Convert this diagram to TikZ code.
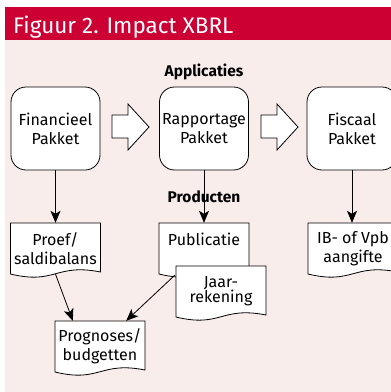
\documentclass[tikz,border=0pt]{standalone}
\usepackage{fontspec}
\setmainfont{Fira Sans}
\usetikzlibrary{arrows.meta}
\definecolor{hdr}{RGB}{204,0,51}
\definecolor{bgpink}{RGB}{249,237,236}
\tikzset{
  appbox/.style={draw, fill=white, line width=0.8pt, rounded corners=15pt,
    minimum width=89pt, minimum height=83pt, inner sep=0pt, align=center,
    font=\fontsize{16}{19}\selectfont},
  docline/.style={draw, fill=white, line width=0.8pt},
  doctext/.style={minimum width=90pt, minimum height=51pt, inner sep=0pt,
    align=center, font=\fontsize{16}{19}\selectfont},
  conn/.style={line width=0.8pt, -{Stealth[length=12pt,width=10pt,inset=3pt]}},
  blockarr/.style={draw, fill=white, line width=0.8pt, line join=miter},
  boldlbl/.style={font=\fontsize{15.5}{18}\selectfont\bfseries, inner sep=0pt},
}
\newcommand\docat[4]{%
  \draw[docline] ({#2-45},{#3-25.5}) -- ({#2+45},{#3-25.5}) -- ({#2+45},{#3+23.5})
    .. controls (#2,{#3+14.5}) and (#2,{#3+36.5}) .. ({#2-45},{#3+25.5}) -- cycle;
  \node[doctext] (#1) at (#2,#3) {#4};
}
\begin{document}
\begin{tikzpicture}[x=1pt,y=-1pt]
\useasboundingbox (0,0) rectangle (391,392);
\clip (0,0) rectangle (391,392);
\fill[bgpink] (5,40) rectangle (391,392);
\fill[hdr] (5,7) rectangle (391,40);
\node[anchor=base west, text=white, inner sep=0pt, font=\fontsize{22.5}{26}\selectfont] (title) at (13,33) {Figuur 2. Impact XBRL};

\node[boldlbl] (apps) at (204,72) {Applicaties};

\node[appbox] (fin) at (55.5,128.5) {Financieel\\Pakket};
\node[appbox] (rap) at (204,128.5) {Rapportage\\Pakket};
\node[appbox, minimum width=90pt] (fis) at (352,128.5) {Fiscaal\\Pakket};

\draw[blockarr] (112,115) -- (128,115) -- (128,104) -- (149,127) -- (128,150) -- (128,138) -- (112,138) -- cycle;
\draw[blockarr, xshift=149pt] (112,115) -- (128,115) -- (128,104) -- (149,127) -- (128,150) -- (128,138) -- (112,138) -- cycle;

\docat{proef}{55.5}{248.5}{Proef/\\saldibalans}
\docat{pub}{204}{248.5}{Publicatie\\\phantom{X}}
\docat{jaar}{221}{291.5}{Jaar-\\[-4pt]rekening}
\docat{ib}{353}{248.5}{IB- of Vpb\\aangifte}
\docat{prog}{100}{346.5}{Prognoses/\\budgetten}

\draw[conn] (fin) -- (proef);
\draw[conn] (rap) -- (pub);
\draw[conn] (fis.south) -- (fis.south |- ib.north);
\draw[conn] (proef.south) -- ([xshift=18pt]prog.north west);
\draw[conn] ([xshift=16pt,yshift=-1pt]pub.south west) -- ([xshift=-19pt]prog.north east);

\node[boldlbl] (prod) at (204,197) {Producten};
\end{tikzpicture}
\end{document}
